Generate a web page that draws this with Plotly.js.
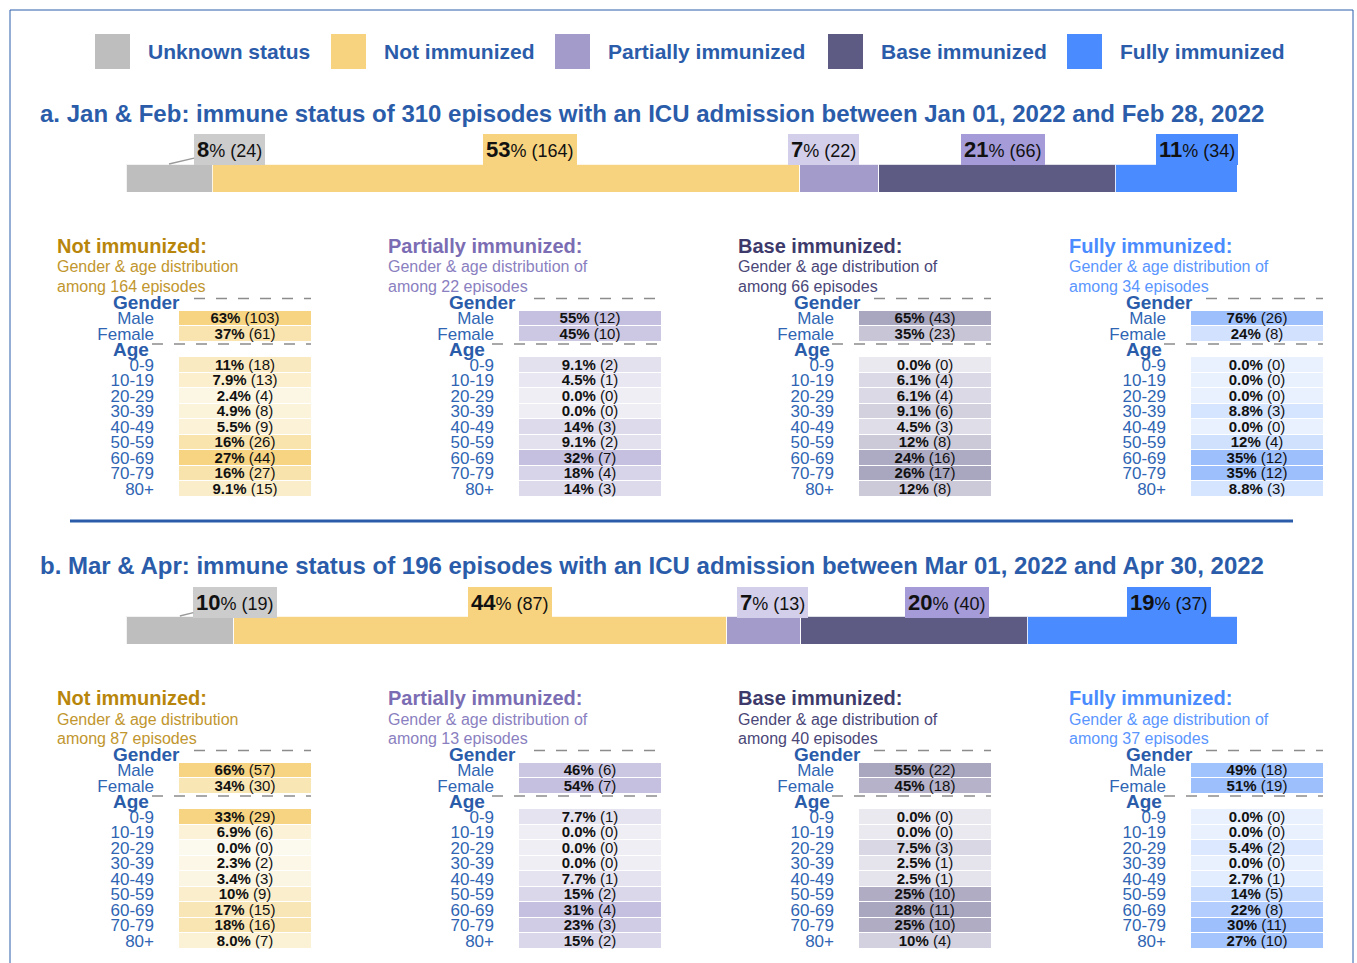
<!DOCTYPE html>
<html><head><meta charset="utf-8">
<script src="https://cdn.plot.ly/plotly-3.0.1.min.js"></script>
<style>body{margin:0;background:#fff}</style>
</head><body><div id="chart" style="width:1357px;height:963px"></div>
<script>
// ---------- DATA ----------
const statusNames = ['Unknown status','Not immunized','Partially immunized','Base immunized','Fully immunized'];
const periodNames = ['a. Jan & Feb','b. Mar & Apr'];
const periodStart = ['Jan 01, 2022','Mar 01, 2022'];
const periodEnd = ['Feb 28, 2022','Apr 30, 2022'];
const countsA = [24,164,22,66,34];
const countsB = [19,87,13,40,37];
const genderCats = ['Male','Female'];
const ageCats = ['0-9','10-19','20-29','30-39','40-49','50-59','60-69','70-79','80+'];
// period a
const genderNotA  = [103,61];
const genderPartA = [12,10];
const genderBaseA = [43,23];
const genderFullA = [26,8];
const ageNotA  = [18,13,4,8,9,26,44,27,15];
const agePartA = [2,1,0,0,3,2,7,4,3];
const ageBaseA = [0,4,4,6,3,8,16,17,8];
const ageFullA = [0,0,0,3,0,4,12,12,3];
// period b
const genderNotB  = [57,30];
const genderPartB = [6,7];
const genderBaseB = [22,18];
const genderFullB = [18,19];
const ageNotB  = [29,6,0,2,3,9,15,16,7];
const agePartB = [1,0,0,0,1,2,4,3,2];
const ageBaseB = [0,0,3,1,1,10,11,10,4];
const ageFullB = [0,0,2,0,1,5,8,11,10];

// ---------- STYLE / LAYOUT ----------
const W = 1357, H = 963;
const px = x => x / W;
const py = y => 1 - y / H;
const FONT = 'Liberation Sans, Arial, sans-serif';
const BLUE = '#2a5caa';
const statusColors = ['#bebebe','#f7d37f','#a39bc9','#5d5a84','#4a8cff'];
const labelBg = ['#cccccc','#f7d37f','#d3cfea','#a49bd8','#4a8cff'];
const cellMin = ['#fcfaee','#efeef4','#ebe9f0','#e9f1ff'];
const cellMax = ['#f7d482','#c5c0e0','#a9a6c0','#9dc0fd'];
const headTitleColor = ['#b8860b','#7b6db3','#3d3a6b','#4a8cff'];
const headSubColor = ['#c1962e','#8a7fc0','#4a4778','#5a96ff'];
const legX = [95,331,555,828,1067];
const barTop = [164,616], barBot = [192,644], barLeft = 126, barRight = 1237;
const labelShift = [[60,24,-16,6,21],[55,30,9,33,37]];
const cellLeft = [179,519,859,1191], cellRight = [311,661,991,1323];
const titleX = [55,386,736,1067];
const headX = [111,447,792,1124];
const tableTop = [295,747], rowH = 15.5;
const colTitleY = [246,698], mainTitleY = [113,565];

const counts = [countsA, countsB];
const genders = [[genderNotA,genderPartA,genderBaseA,genderFullA],[genderNotB,genderPartB,genderBaseB,genderFullB]];
const ages = [[ageNotA,agePartA,ageBaseA,ageFullA],[ageNotB,agePartB,ageBaseB,ageFullB]];

const sum = a => a.reduce((s,v)=>s+v,0);
function fmtPct(n, tot){
  const p = n/tot*100;
  const s = (p < 9.95) ? p.toFixed(1) : String(Math.round(p));
  return '<b>' + s + '%</b> (' + n + ')';
}

const traces = [];
const annotations = [];
const shapes = [];
const layout = {
  width: W, height: H,
  margin: {l:0,r:0,t:0,b:0},
  paper_bgcolor: '#ffffff', plot_bgcolor: 'rgba(0,0,0,0)',
  barmode: 'stack', bargap: 0,
  showlegend: false,
  font: {family: FONT},
  annotations, shapes
};

// outer border + separator
shapes.push({type:'rect', xref:'paper', yref:'paper', x0:px(10), x1:px(1353), y0:py(975), y1:py(10), line:{color:BLUE, width:1}});
shapes.push({type:'line', xref:'paper', yref:'paper', x0:px(70), x1:px(1293), y0:py(521), y1:py(521), line:{color:BLUE, width:3}});

// legend
statusNames.forEach((name,i)=>{
  shapes.push({type:'rect', xref:'paper', yref:'paper', x0:px(legX[i]), x1:px(legX[i]+35), y0:py(69), y1:py(34), fillcolor:statusColors[i], line:{width:0}});
  annotations.push({xref:'paper', yref:'paper', x:px(legX[i]+51), y:py(52), xanchor:'left', yanchor:'middle', showarrow:false,
    text:'<b>'+name+'</b>', font:{family:FONT, size:21, color:BLUE}});
});

// stacked bars + titles
counts.forEach((cnt,p)=>{
  const total = sum(cnt);
  const xa = p===0 ? 'x' : 'x2', ya = p===0 ? 'y' : 'y2';
  const xk = p===0 ? 'xaxis' : 'xaxis2', yk = p===0 ? 'yaxis' : 'yaxis2';
  layout[xk] = {domain:[px(barLeft), px(barRight)], range:[0,total], visible:false, anchor:ya, fixedrange:true};
  layout[yk] = {domain:[py(barBot[p]), py(barTop[p])], range:[-0.5,0.5], visible:false, anchor:xa, fixedrange:true};
  let cum = 0;
  cnt.forEach((n,i)=>{
    traces.push({type:'bar', orientation:'h', x:[n], y:[0], xaxis:xa, yaxis:ya,
      marker:{color:statusColors[i], line:{color:'rgba(255,255,255,0.8)', width:1}}, hoverinfo:'skip', width:1});
    annotations.push({xref:xa, yref:ya, x:cum + n/2, y:0.5, ax:labelShift[p][i], ay:-14,
      showarrow:true, arrowhead:0, arrowwidth:1.3, arrowcolor:'#9a9a9a', standoff:0,
      text:'<span style="font-size:22px"><b>'+Math.round(n/total*100)+'</b></span>% ('+n+')',
      font:{family:FONT, size:18, color:'#111'}, bgcolor:labelBg[i], bordercolor:labelBg[i], borderpad:2, borderwidth:1});
    cum += n;
  });
  annotations.push({xref:'paper', yref:'paper', x:px(38), y:py(mainTitleY[p]), xanchor:'left', yanchor:'middle', showarrow:false,
    text:'<b>'+periodNames[p]+': immune status of '+total+' episodes with an ICU admission between '+periodStart[p]+' and '+periodEnd[p]+'</b>',
    font:{family:FONT, size:24, color:BLUE}});
});

// tables
const rows = ['Gender', ...genderCats, 'Age', ...ageCats];
let k = 3;
for (let p=0;p<2;p++){
  for (let c=0;c<4;c++){
    const s = c+1;
    const g = genders[p][c], a = ages[p][c];
    const gT = sum(g), aT = sum(a);
    const gM = Math.max(...g), aM = Math.max(...a);
    const z = [[null], ...g.map(v=>[v/gM]), [null], ...a.map(v=>[v/aM])];
    const text = [[''], ...g.map(v=>[fmtPct(v,gT)]), [''], ...a.map(v=>[fmtPct(v,aT)])];
    const xa = 'x'+k, ya = 'y'+k;
    traces.push({type:'heatmap', x:['v'], y:rows, z:z, text:text, texttemplate:'%{text}',
      textfont:{family:FONT, size:15, color:'#111'}, colorscale:[[0,cellMin[c]],[1,cellMax[c]]],
      zmin:0, zmax:1, showscale:false, ygap:1, xaxis:xa, yaxis:ya, hoverinfo:'skip'});
    const top = tableTop[p];
    layout['xaxis'+k] = {domain:[px(cellLeft[c]), px(cellRight[c])], range:[-0.5,0.5], visible:false, anchor:ya, fixedrange:true};
    layout['yaxis'+k] = {domain:[py(top+13*rowH), py(top)], anchor:xa, type:'category', categoryarray:rows,
      range:[12.5,-0.5], tickmode:'array', tickvals:[...genderCats, ...ageCats], ticktext:[...genderCats, ...ageCats],
      ticks:'', ticklabelstandoff:24, showgrid:false, zeroline:false, showline:false, fixedrange:true,
      tickfont:{family:FONT, size:17, color:'#2f65b3'}};
    // dashed separators
    shapes.push({type:'line', xref:'paper', yref:'paper', x0:px(cellLeft[c]+15), x1:px(cellRight[c]), y0:py(top+3.5), y1:py(top+3.5), line:{color:'#8c8c8c', width:1.3, dash:'11px,11px'}});
    shapes.push({type:'line', xref:'paper', yref:'paper', x0:px(cellLeft[c]-27), x1:px(cellRight[c]), y0:py(top+3*rowH+2.5), y1:py(top+3*rowH+2.5), line:{color:'#8c8c8c', width:1.3, dash:'11px,11px'}});
    // headers
    annotations.push({xref:'paper', yref:ya, x:px(headX[c]), y:'Gender', xanchor:'left', yanchor:'middle', showarrow:false,
      text:'<b>Gender</b>', font:{family:FONT, size:19, color:BLUE}});
    annotations.push({xref:'paper', yref:ya, x:px(headX[c]), y:'Age', xanchor:'left', yanchor:'middle', showarrow:false,
      text:'<b>Age</b>', font:{family:FONT, size:19, color:BLUE}});
    // column titles
    const ty = colTitleY[p];
    annotations.push({xref:'paper', yref:'paper', x:px(titleX[c]), y:py(ty), xanchor:'left', yanchor:'middle', showarrow:false,
      text:'<b>'+statusNames[s]+':</b>', font:{family:FONT, size:20, color:headTitleColor[c]}});
    annotations.push({xref:'paper', yref:'paper', x:px(titleX[c]), y:py(ty+21), xanchor:'left', yanchor:'middle', showarrow:false,
      text:'Gender & age distribution' + (c===0 ? '' : ' of'), font:{family:FONT, size:16, color:headSubColor[c]}});
    annotations.push({xref:'paper', yref:'paper', x:px(titleX[c]), y:py(ty+40), xanchor:'left', yanchor:'middle', showarrow:false,
      text:'among '+counts[p][s]+' episodes', font:{family:FONT, size:16, color:headSubColor[c]}});
    k++;
  }
}

Plotly.newPlot('chart', traces, layout, {staticPlot:true, displayModeBar:false});
</script>
</body></html>
